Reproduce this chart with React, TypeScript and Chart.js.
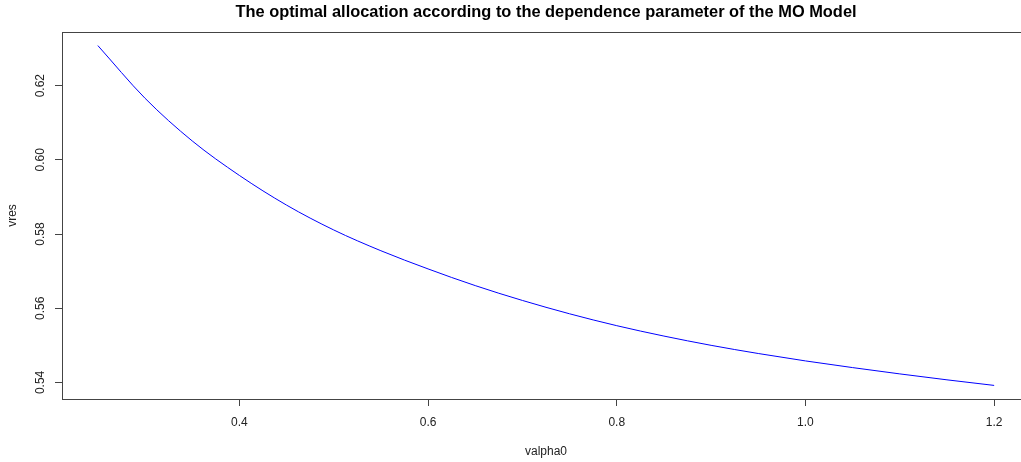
import React, { useEffect, useRef } from "react";
import { Chart, registerables } from "chart.js";

Chart.register(...registerables);

const alphaValues = [0.25, 0.3, 0.35, 0.4, 0.45, 0.5, 0.55, 0.6, 0.65, 0.7, 0.75, 0.8, 0.85, 0.9, 0.95, 1.0, 1.05, 1.1, 1.15, 1.2];
const vresValues = [0.6308, 0.6166, 0.6051, 0.5958, 0.5878, 0.5811, 0.5755, 0.5706, 0.5661, 0.5621, 0.5585, 0.5553, 0.5525, 0.55, 0.5478, 0.5458, 0.544, 0.5423, 0.5407, 0.5392];
const xTickValues = [0.4, 0.6, 0.8, 1.0, 1.2];
const yTickValues = [0.54, 0.56, 0.58, 0.6, 0.62];

const titleText = "The optimal allocation according to the dependence parameter of the MO Model";
const xTitle = "valpha0";
const yTitle = "vres";

const FONT = "'Liberation Sans', Arial, sans-serif";

const boxPlugin = {
  id: "rbox",
  afterDraw(chart: any) {
    const { ctx, chartArea } = chart;
    ctx.save();
    ctx.strokeStyle = "#444";
    ctx.lineWidth = 1;
    const l = Math.round(chartArea.left) + 0.5;
    const t = Math.round(chartArea.top) + 0.5;
    const r = Math.round(chartArea.right) + 0.5;
    const b = Math.round(chartArea.bottom) + 0.5;
    ctx.strokeRect(l, t, r - l, b - t);
    ctx.restore();
  },
};

export default function App() {
  const ref = useRef<HTMLCanvasElement>(null);
  useEffect(() => {
    if (!ref.current) return;
    const xMin = 0.25 - 0.04 * (1.2 - 0.25);
    const xMax = 1.2 + 0.04 * (1.2 - 0.25);
    const yLo = Math.min(...vresValues);
    const yHi = Math.max(...vresValues);
    const yMin = yLo - 0.04 * (yHi - yLo);
    const yMax = yHi + 0.04 * (yHi - yLo);
    const chart = new Chart(ref.current, {
      type: "scatter",
      data: {
        datasets: [
          {
            data: alphaValues.map((a, i) => ({ x: a, y: vresValues[i] })),
            showLine: true,
            borderColor: "#0000ff",
            borderWidth: 1,
            pointRadius: 0,
            cubicInterpolationMode: "monotone",
          } as any,
        ],
      },
      options: {
        responsive: false,
        animation: false,
        devicePixelRatio: 1,
        layout: { padding: { left: 0, right: 10, top: 0, bottom: 0 } },
        plugins: {
          legend: { display: false },
          tooltip: { enabled: false },
          title: {
            display: true,
            text: titleText,
            fullSize: false,
            color: "#000",
            font: { family: FONT, size: 16.4, weight: "bold", lineHeight: 1.2 },
            padding: { top: 3, bottom: 9.3 },
          },
        },
        scales: {
          x: {
            type: "linear",
            min: xMin,
            max: xMax,
            afterBuildTicks: (scale: any) => {
              scale.ticks = xTickValues.map((v) => ({ value: v }));
            },
            afterFit: (scale: any) => {
              scale.height = 63;
            },
            border: { display: false },
            grid: { display: true, drawOnChartArea: false, drawTicks: true, tickLength: 7, color: "#444" },
            ticks: {
              color: "#222",
              font: { family: FONT, size: 12 },
              padding: 9,
              maxRotation: 0,
              autoSkip: false,
              callback: (v: any) => Number(v).toFixed(1),
            },
            title: {
              display: true,
              text: xTitle,
              color: "#222",
              font: { family: FONT, size: 12 },
              padding: { top: 0, bottom: 3 },
            },
          },
          y: {
            type: "linear",
            min: yMin,
            max: yMax,
            afterBuildTicks: (scale: any) => {
              scale.ticks = yTickValues.map((v) => ({ value: v }));
            },
            afterFit: (scale: any) => {
              scale.width = 62;
            },
            border: { display: false },
            grid: { display: true, drawOnChartArea: false, drawTicks: true, tickLength: 7, color: "#444" },
            ticks: {
              color: "#222",
              font: { family: FONT, size: 12 },
              padding: 3,
              minRotation: 90,
              maxRotation: 90,
              crossAlign: "center",
              autoSkip: false,
              callback: (v: any) => Number(v).toFixed(2),
            },
            title: {
              display: true,
              text: yTitle,
              color: "#222",
              font: { family: FONT, size: 12 },
              padding: { top: 5, bottom: 0 },
            },
          },
        },
      },
      plugins: [boxPlugin],
    });
    return () => chart.destroy();
  }, []);
  return (
    <div style={{ position: "fixed", left: 0, top: 0, width: 1021, height: 462, overflow: "hidden", background: "#fff" }}>
      <canvas ref={ref} width={1040} height={462} style={{ width: 1040, height: 462, display: "block" }} />
    </div>
  );
}
